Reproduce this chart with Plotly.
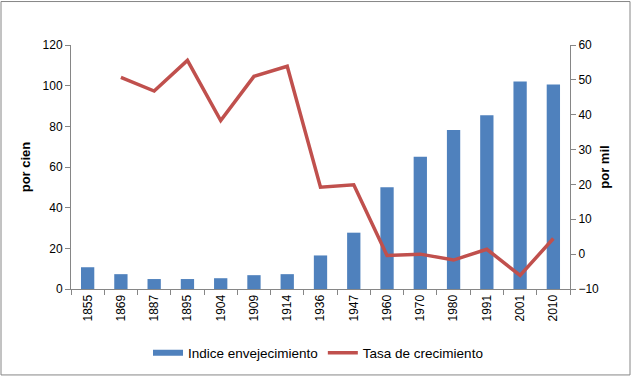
import plotly.graph_objects as go

years = ["1855", "1869", "1887", "1895", "1904", "1909", "1914", "1936",
         "1947", "1960", "1970", "1980", "1991", "2001", "2010"]
indice = [10.7, 7.3, 4.9, 4.9, 5.3, 6.8, 7.3, 16.5, 27.7, 50.0, 65.1, 78.2, 85.5, 102.0, 100.6]
tasa_years = years[1:]
tasa = [50.7, 46.8, 55.6, 38.3, 51.0, 53.9, 19.2, 19.9, -0.4, 0.0, -1.7, 1.4, -6.1, 4.5]

axis_col = "#868686"
bar_col = "#4F81BD"
line_col = "#C0504D"
font_fam = "Liberation Sans, Arial, sans-serif"

fig = go.Figure()
fig.add_trace(go.Bar(x=years, y=indice, name="Indice envejecimiento", showlegend=False,
                     marker=dict(color=bar_col, line=dict(width=0)), width=0.4))
# legend entry styled as a wide flat swatch like the original
fig.add_trace(go.Scatter(x=[None], y=[None], name="Indice envejecimiento", mode="lines",
                         line=dict(color=bar_col, width=6)))
fig.add_trace(go.Scatter(x=tasa_years, y=tasa, name="Tasa de crecimiento", yaxis="y2",
                         mode="lines", line=dict(color=line_col, width=3.5)))

fig.update_layout(
    width=631, height=380,
    margin=dict(l=71, r=61, t=45, b=88),
    paper_bgcolor="white", plot_bgcolor="white",
    font=dict(family=font_fam, size=12, color="#000000"),
    showlegend=True,
    legend=dict(orientation="h", x=0.495, xanchor="center", y=-0.262, yanchor="middle",
                font=dict(size=13.5), tracegroupgap=0),
    xaxis=dict(type="category", showgrid=False, showline=True, linecolor=axis_col,
               ticks="outside", tickson="boundaries", ticklen=5, tickcolor=axis_col,
               tickangle=-90, tickfont=dict(size=12)),
    yaxis=dict(range=[0, 120], dtick=20, showgrid=False, showline=True, linecolor=axis_col,
               ticks="outside", ticklen=5, tickcolor=axis_col, zeroline=False,
               title=dict(text="<b>por cien</b>", font=dict(size=13), standoff=9)),
    yaxis2=dict(range=[-10, 60], dtick=10, overlaying="y", side="right", showgrid=False,
                showline=True, linecolor=axis_col, ticks="outside", ticklen=5,
                tickcolor=axis_col, zeroline=False,
                title=dict(text="<b>por mil</b>", font=dict(size=13), standoff=1)),
    shapes=[dict(type="rect", xref="paper", yref="paper",
                 x0=(1 - 71) / 499, x1=(630 - 71) / 499,
                 y0=(292 - 379) / 247, y1=1 + (45 - 1) / 247,
                 line=dict(color=axis_col, width=1), fillcolor="rgba(0,0,0,0)")],
)

fig.write_html("out.html", config={"displayModeBar": False},
               post_script="document.body.style.margin='0';document.body.style.overflow='hidden';")
